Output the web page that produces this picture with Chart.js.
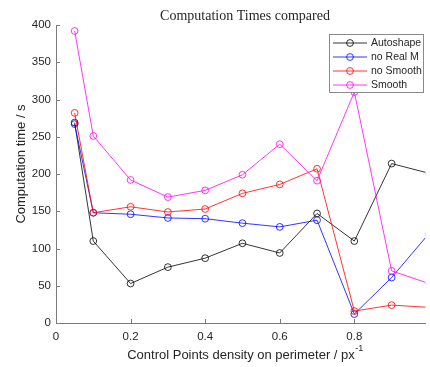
<!DOCTYPE html>
<html>
<head>
<meta charset="utf-8">
<script src="https://cdn.jsdelivr.net/npm/chart.js@4"></script>
<style>
  body { margin: 0; background: #fff; }
  #wrap { width: 430px; height: 367px; }
</style>
</head>
<body>
<div id="wrap"><canvas id="grafico" width="430" height="367"></canvas></div>
<script>
// densidad de puntos de control (px^-1)
const densidad = [0.05, 0.1, 0.2, 0.3, 0.4, 0.5, 0.6, 0.7, 0.8, 0.9, 1.0];

// tiempos de calculo en segundos
const autoshape = [269, 110, 53, 75, 87, 107, 94, 147, 110, 214, 201];
const noRealM   = [267, 148, 146, 141, 140, 134, 129, 138, 12, 61, 120];
const noSmooth  = [282, 148, 156, 149, 153, 174, 186, 207, 16, 24, 21];
const smooth    = [392, 251, 192, 169, 178, 199, 240, 191, 310, 70, 53];

const etiquetas = ["Autoshape", "no Real M", "no Smooth", "Smooth"];
const colores = ["#000000", "#0000ff", "#ff0000", "#ff00ff"];
const series = [autoshape, noRealM, noSmooth, smooth];

const xTicks = [0, 0.2, 0.4, 0.6, 0.8];
const yTicks = [0, 50, 100, 150, 200, 250, 300, 350, 400];

const ejeColor = "#7a7a7a";
const textoColor = "#262626";

// Construir los datasets a partir de las listas
const datasets = series.map((valores, i) => ({
    label: etiquetas[i],
    data: valores.map((v, j) => ({ x: densidad[j], y: v })),
    borderColor: colores[i],
    backgroundColor: "rgba(0,0,0,0)",
    borderWidth: 0.8,
    pointRadius: 3.4,
    pointBorderWidth: 0.8,
    pointBorderColor: colores[i],
    pointBackgroundColor: "rgba(0,0,0,0)",
    tension: 0,
    order: series.length - i   // la ultima serie queda encima
}));

// Marcas hacia dentro, titulo, etiquetas de ejes y leyenda
const textosFigura = {
    id: "textosFigura",
    afterDraw(chart) {
        const ctx = chart.ctx;
        const area = chart.chartArea;
        const xs = chart.scales.x;
        const ys = chart.scales.y;
        ctx.save();

        // ticks interiores
        ctx.strokeStyle = ejeColor;
        ctx.lineWidth = 1;
        ctx.beginPath();
        xTicks.forEach(v => {
            const px = Math.round(xs.getPixelForValue(v)) + 0.5;
            ctx.moveTo(px, area.bottom);
            ctx.lineTo(px, area.bottom - 4);
        });
        yTicks.forEach(v => {
            const py = Math.round(ys.getPixelForValue(v)) + 0.5;
            ctx.moveTo(area.left, py);
            ctx.lineTo(area.left + 4, py);
        });
        ctx.stroke();

        // titulo
        ctx.fillStyle = textoColor;
        ctx.font = "14px 'Liberation Serif'";
        ctx.textAlign = "center";
        ctx.textBaseline = "middle";
        ctx.fillText("Computation Times compared", 245, 16);

        // etiqueta eje x con superindice
        const base = "Control Points density on perimeter / px";
        const sup = "-1";
        ctx.font = "13px 'Liberation Sans'";
        const wBase = ctx.measureText(base).width;
        ctx.font = "9px 'Liberation Sans'";
        const wSup = ctx.measureText(sup).width;
        const inicio = 245 - (wBase + wSup) / 2;
        ctx.textAlign = "left";
        ctx.font = "13px 'Liberation Sans'";
        ctx.fillText(base, inicio, 355);
        ctx.font = "9px 'Liberation Sans'";
        ctx.fillText(sup, inicio + wBase + 0.5, 349);

        // etiqueta eje y
        ctx.save();
        ctx.translate(21, 164);
        ctx.rotate(-Math.PI / 2);
        ctx.textAlign = "center";
        ctx.font = "13px 'Liberation Sans'";
        ctx.fillText("Computation time / s", 0, 0);
        ctx.restore();

        // leyenda
        const lx = 329.5, ly = 34.5, lw = 94, lh = 58;
        ctx.fillStyle = "#ffffff";
        ctx.fillRect(lx, ly, lw, lh);
        ctx.strokeStyle = "#8a8a8a";
        ctx.lineWidth = 1;
        ctx.strokeRect(lx, ly, lw, lh);
        ctx.font = "10.5px 'Liberation Sans'";
        ctx.textAlign = "left";
        etiquetas.forEach((nombre, i) => {
            const y = 43 + i * 14;
            ctx.strokeStyle = colores[i];
            ctx.lineWidth = 0.8;
            ctx.beginPath();
            ctx.moveTo(333, y);
            ctx.lineTo(367, y);
            ctx.stroke();
            ctx.beginPath();
            ctx.arc(350, y, 3.4, 0, Math.PI * 2);
            ctx.stroke();
            ctx.fillStyle = textoColor;
            ctx.fillText(nombre, 371, y + 0.5);
        });

        ctx.restore();
    }
};

new Chart(document.getElementById("grafico").getContext("2d"), {
    type: "line",
    data: { datasets: datasets },
    options: {
        responsive: false,
        animation: false,
        layout: { padding: { top: 25, right: 0, left: 0, bottom: 0 } },
        plugins: {
            legend: { display: false },
            title: { display: false },
            tooltip: { enabled: false }
        },
        scales: {
            x: {
                type: "linear",
                min: 0,
                max: 0.99,
                afterFit: s => { s.height = 44; },
                afterBuildTicks: s => { s.ticks = xTicks.map(v => ({ value: v })); },
                grid: { display: false, drawTicks: false },
                border: { display: true, color: ejeColor, width: 1 },
                ticks: {
                    padding: 7,
                    color: textoColor,
                    font: { family: "Liberation Sans", size: 11.5 },
                    maxRotation: 0,
                    callback: v => String(v)
                }
            },
            y: {
                min: 0,
                max: 400,
                afterFit: s => { s.width = 56; },
                afterBuildTicks: s => { s.ticks = yTicks.map(v => ({ value: v })); },
                grid: { display: false, drawTicks: false },
                border: { display: true, color: ejeColor, width: 1 },
                ticks: {
                    padding: 5,
                    color: textoColor,
                    font: { family: "Liberation Sans", size: 11.5 }
                }
            }
        }
    },
    plugins: [textosFigura]
});
</script>
</body>
</html>
